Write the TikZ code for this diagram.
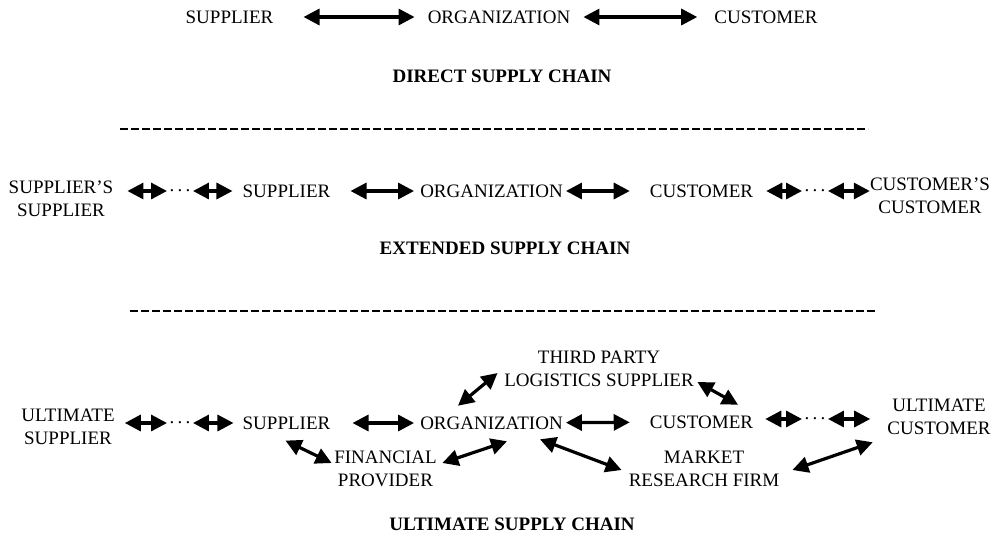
\documentclass[tikz,border=0pt]{standalone}
\usepackage{fontspec}
\setmainfont{Liberation Serif}
\usetikzlibrary{arrows.meta}
\begin{document}
\begin{tikzpicture}[x=1pt,y=-1pt,line join=round,>={Triangle[length=16pt,width=16pt]},
	font=\fontsize{19}{23}\selectfont,
	lbl/.style={inner sep=0pt,align=center},
	ttl/.style={inner sep=0pt,font=\fontsize{19}{23}\selectfont\bfseries},
	pts/.style={inner sep=0pt,inner xsep=2.5pt},
	dbl/.style={<->,line width=3.2pt},
	sep/.style={line width=2pt,dash pattern=on 8pt off 3pt}]
	\def\ya{17} \def\yb{191} \def\yc{423} %y of the three rows
	\useasboundingbox (0,0) rectangle (997,539);
	% direct supply chain
	\node[lbl] (sup1) at (229.5,\ya) {SUPPLIER};
	\node[lbl] (org1) at (499,\ya) {ORGANIZATION};
	\node[lbl] (cus1) at (766,\ya) {CUSTOMER};
	\draw[dbl,shorten <=30pt,shorten >=13pt] (sup1) -- (org1);
	\draw[dbl,shorten <=13pt,shorten >=17pt] (org1) -- (cus1);
	\node[ttl] (t1) at (502,76) {DIRECT SUPPLY CHAIN};
	\draw[sep] (120,129) -- (868,129);
	% extended supply chain
	\node[lbl] (ss) at (61,199) {SUPPLIER’S\\SUPPLIER};
	\node[pts] (d1) at (180,\yb) {.\,.\,.};
	\node[lbl] (sup2) at (286.5,\yb) {SUPPLIER};
	\node[lbl] (org2) at (491.5,\yb) {ORGANIZATION};
	\node[lbl] (cus2) at (701.5,\yb) {CUSTOMER};
	\node[pts] (d2) at (815,\yb) {.\,.\,.};
	\node[lbl] (cc) at (930,196) {CUSTOMER’S\\CUSTOMER};
	\draw[dbl,shorten <=14pt] (ss.east |- d1) -- (d1);
	\draw[dbl,shorten >=10pt] (d1) -- (sup2);
	\draw[dbl,shorten <=20pt,shorten >=6pt] (sup2) -- (org2);
	\draw[dbl,shorten <=3pt,shorten >=20pt] (org2) -- (cus2);
	\draw[dbl,shorten <=13pt] (cus2) -- (d2);
	\draw[dbl] (d2) -- (d2 -| cc.west);
	\node[ttl] (t2) at (505,248) {EXTENDED SUPPLY CHAIN};
	\draw[sep] (130,311) -- (876,311);
	% ultimate supply chain
	\node[lbl] (us) at (68,426.5) {ULTIMATE\\SUPPLIER};
	\node[pts] (d3) at (180,\yc) {.\,.\,.};
	\node[lbl] (sup3) at (286.5,\yc) {SUPPLIER};
	\node[lbl] (org3) at (491.5,\yc) {ORGANIZATION};
	\node[lbl] (cus3) at (701.5,422) {CUSTOMER};
	\node[pts] (d4) at (815,419) {.\,.\,.};
	\node[lbl] (uc) at (939,416.5) {ULTIMATE\\CUSTOMER};
	\node[lbl] (tp) at (599,368.5) {THIRD PARTY\\LOGISTICS SUPPLIER};
	\node[lbl] (fp) at (385.5,468.5) {FINANCIAL\\PROVIDER};
	\node[lbl] (mr) at (704,468.5) {MARKET\\RESEARCH FIRM};
	\draw[dbl,shorten <=10pt] (us.east |- d3) -- (d3);
	\draw[dbl,shorten >=9pt] (d3) -- (sup3);
	\draw[dbl,shorten <=22pt,shorten >=6pt] (sup3) -- (org3);
	\draw[dbl,shorten <=3pt,shorten >=20pt] (org3) -- (cus3);
	\draw[dbl,shorten <=12pt] (cus3.east |- d4) -- (d4);
	\draw[dbl,shorten >=17pt] (d4) -- (d4 -| uc.west);
	\draw[dbl] ([shift={(-1pt,-11pt)}]sup3.south) -- ([shift={(-2.5pt,5.5pt)}]fp.west);
	\draw[dbl] ([shift={(5.5pt,5.5pt)}]fp.east) -- ([shift={(15.5pt,-11.7pt)}]org3.south);
	\draw[dbl] ([shift={(-33.5pt,10.7pt)}]org3.north) -- ([shift={(-6.5pt,-4.5pt)}]tp.west);
	\draw[dbl] ([shift={(3.5pt,-13.5pt)}]tp.east) -- ([shift={(36.5pt,10.7pt)}]cus3.north);
	\draw[dbl] ([shift={(48.5pt,-9.7pt)}]org3.south) -- ([shift={(-7pt,-1.5pt)}]mr.west);
	\draw[dbl] ([shift={(13pt,-1.5pt)}]mr.east) -- ([shift={(-14.5pt,-7.7pt)}]uc.south west);
	\node[ttl] (t3) at (512,524) {ULTIMATE SUPPLY CHAIN};
\end{tikzpicture}
\end{document}
